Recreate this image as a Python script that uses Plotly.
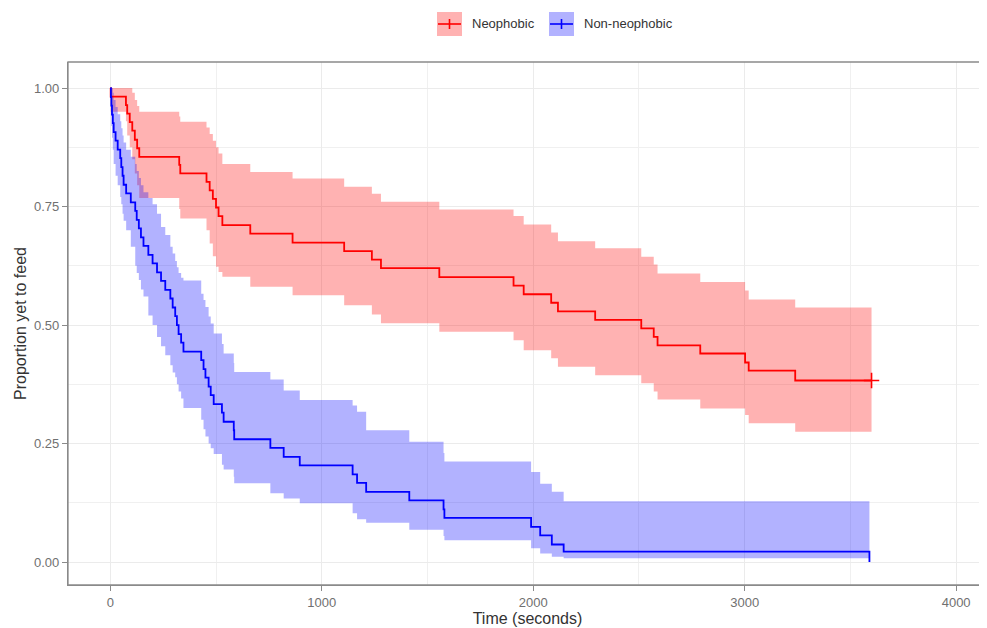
import plotly.graph_objects as go

# ---------------- data ----------------
neo_time = [0, 2, 74, 80, 92, 104, 116, 127, 137, 326, 331, 455, 470, 485, 500, 512, 530,
            662, 862, 1106, 1237, 1280, 1556, 1907, 1955, 2085, 2117, 2293, 2511, 2570,
            2588, 2790, 3002, 3019, 3239, 3600]
neo_surv = [1.0, 0.982, 0.964, 0.946, 0.928, 0.910, 0.891, 0.873, 0.855, 0.838, 0.820,
            0.802, 0.784, 0.766, 0.748, 0.730, 0.711, 0.693, 0.674, 0.656, 0.638, 0.620,
            0.601, 0.583, 0.565, 0.547, 0.529, 0.511, 0.493, 0.475, 0.457, 0.440, 0.421,
            0.404, 0.383, 0.383]
neo_upper = [1.0, 1.0, 1.0, 1.0, 1.0, 0.99, 0.975, 0.962, 0.950, 0.940, 0.929, 0.917,
             0.903, 0.889, 0.875, 0.862, 0.840, 0.823, 0.809, 0.792, 0.777, 0.760, 0.744,
             0.730, 0.712, 0.695, 0.677, 0.662, 0.644, 0.628, 0.609, 0.591, 0.573, 0.554,
             0.537, 0.537]
neo_lower = [1.0, 0.95, 0.93, 0.90, 0.875, 0.85, 0.82, 0.795, 0.768, 0.745, 0.725, 0.70,
             0.672, 0.645, 0.623, 0.612, 0.602, 0.581, 0.563, 0.542, 0.522, 0.504, 0.486,
             0.468, 0.447, 0.430, 0.412, 0.394, 0.377, 0.360, 0.343, 0.324, 0.310, 0.293,
             0.275, 0.275]

non_time = [0, 3, 5, 8, 12, 16, 25, 35, 47, 52, 58, 63, 75, 97, 118, 125, 135, 145, 157,
            180, 200, 221, 240, 260, 284, 295, 307, 315, 323, 335, 346, 430, 441, 450, 465,
            475, 489, 528, 536, 584, 586, 757, 820, 896, 1146, 1167, 1210, 1414, 1576, 1580,
            1990, 2033, 2088, 2144, 3590]
non_surv = [1.0, 0.981, 0.963, 0.944, 0.926, 0.907, 0.889, 0.870, 0.852, 0.833, 0.815,
            0.796, 0.778, 0.759, 0.741, 0.722, 0.704, 0.685, 0.667, 0.648, 0.630, 0.611,
            0.593, 0.574, 0.556, 0.537, 0.519, 0.500, 0.481, 0.463, 0.444, 0.426, 0.407,
            0.389, 0.370, 0.352, 0.333, 0.315, 0.296, 0.278, 0.259, 0.241, 0.222, 0.204,
            0.185, 0.167, 0.148, 0.130, 0.111, 0.093, 0.074, 0.056, 0.037, 0.022, 0.0]
non_upper = [1.0, 1.0, 1.0, 1.0, 0.99, 0.975, 0.96, 0.945, 0.93, 0.915, 0.90, 0.885, 0.87,
             0.855, 0.84, 0.825, 0.81, 0.795, 0.78, 0.768, 0.755, 0.735, 0.707, 0.690,
             0.665, 0.651, 0.635, 0.622, 0.61, 0.60, 0.594, 0.566, 0.553, 0.538, 0.518,
             0.503, 0.482, 0.46, 0.44, 0.42, 0.401, 0.385, 0.362, 0.342, 0.33, 0.317,
             0.278, 0.254, 0.23, 0.212, 0.19, 0.165, 0.148, 0.128, 0.128]
non_lower = [1.0, 0.95, 0.92, 0.895, 0.87, 0.84, 0.815, 0.795, 0.77, 0.755, 0.735, 0.72,
             0.70, 0.665, 0.625, 0.61, 0.595, 0.575, 0.56, 0.52, 0.50, 0.475, 0.455, 0.436,
             0.415, 0.40, 0.39, 0.375, 0.36, 0.345, 0.325, 0.30, 0.28, 0.265, 0.25, 0.24,
             0.228, 0.205, 0.195, 0.18, 0.166, 0.145, 0.134, 0.124, 0.103, 0.09, 0.083,
             0.068, 0.055, 0.046, 0.029, 0.018, 0.011, 0.008, 0.008]

group_names = ["Neophobic", "Non-neophobic"]
x_ticks = [0, 1000, 2000, 3000, 4000]
y_ticks = [0.0, 0.25, 0.5, 0.75, 1.0]
y_tick_labels = ["0.00", "0.25", "0.50", "0.75", "1.00"]

# ---------------- styling ----------------
RED = "#FF0000"
BLUE = "#0000FF"
RED_FILL = "rgba(255,0,0,0.30)"
BLUE_FILL = "rgba(0,0,255,0.30)"
FONT = "Liberation Sans"
OFF = 8                      # default page (body) margin of the html page
W, H = 987 - OFF, 628 - OFF
ML, MR, MT, MB = 68 - OFF, 0, 62 - OFF, 43
PW, PH = W - ML - MR, H - MT - MB

fig = go.Figure()


def add_band(t, lo, up, fill):
    fig.add_trace(go.Scatter(x=t, y=lo, mode="lines", line=dict(width=0, shape="hv"),
                             showlegend=False, hoverinfo="skip"))
    fig.add_trace(go.Scatter(x=t, y=up, mode="lines", line=dict(width=0, shape="hv"),
                             fill="tonexty", fillcolor=fill, showlegend=False,
                             hoverinfo="skip"))


add_band(neo_time, neo_lower, neo_upper, RED_FILL)
add_band(non_time, non_lower, non_upper, BLUE_FILL)

fig.add_trace(go.Scatter(x=neo_time, y=neo_surv, mode="lines", name=group_names[0],
                         line=dict(color=RED, width=1.8, shape="hv"), showlegend=False))
fig.add_trace(go.Scatter(x=non_time, y=non_surv, mode="lines", name=group_names[1],
                         line=dict(color=BLUE, width=1.8, shape="hv"), showlegend=False))
# censoring mark at the end of the Neophobic curve
fig.add_trace(go.Scatter(x=[neo_time[-1]], y=[neo_surv[-1]], mode="markers",
                         marker=dict(symbol="cross-thin", size=11,
                                     line=dict(color=RED, width=1.6)),
                         showlegend=False, hoverinfo="skip"))


def px_x(p):
    # page pixel -> paper x
    return (p - OFF - ML) / PW


def px_y(p):
    # page pixel -> paper y
    return (MT + PH - (p - OFF)) / PH


shapes = [
    # panel border
    dict(type="rect", xref="paper", yref="paper", x0=0, x1=1.05, y0=0, y1=1,
         line=dict(color="#8a8a8a", width=1.3), layer="above"),
]
annotations = []
# manual legend
legend_items = [(437, group_names[0], RED, RED_FILL), (549, group_names[1], BLUE, BLUE_FILL)]
for x0, label, col, fill in legend_items:
    shapes.append(dict(type="rect", xref="paper", yref="paper",
                       x0=px_x(x0), x1=px_x(x0 + 25), y0=px_y(36), y1=px_y(12),
                       fillcolor=fill, line=dict(width=0)))
    shapes.append(dict(type="line", xref="paper", yref="paper",
                       x0=px_x(x0 + 1), x1=px_x(x0 + 24), y0=px_y(24), y1=px_y(24),
                       line=dict(color=col, width=1.6)))
    shapes.append(dict(type="line", xref="paper", yref="paper",
                       x0=px_x(x0 + 12.5), x1=px_x(x0 + 12.5), y0=px_y(19), y1=px_y(29),
                       line=dict(color=col, width=1.6)))
    annotations.append(dict(xref="paper", yref="paper", x=px_x(x0 + 33), y=px_y(24),
                            text=label, showarrow=False, xanchor="left", yanchor="middle",
                            font=dict(family=FONT, size=13, color="#333333")))

fig.update_layout(
    width=W, height=H,
    margin=dict(l=ML, r=MR, t=MT, b=MB, autoexpand=False),
    paper_bgcolor="white", plot_bgcolor="white",
    font=dict(family=FONT, color="#333333"),
    shapes=shapes, annotations=annotations,
    showlegend=False,
)
fig.update_xaxes(
    range=[-200, 4146], tickvals=x_ticks, ticktext=[str(v) for v in x_ticks],
    showgrid=True, gridcolor="#EBEBEB", gridwidth=1.1,
    minor=dict(dtick=500, tick0=0, showgrid=True, gridcolor="#F0F0F0", gridwidth=0.6),
    zeroline=False, showline=True, linecolor="#8a8a8a", linewidth=1.3,
    ticks="outside", ticklen=5, tickcolor="#8a8a8a", tickwidth=1,
    tickfont=dict(family=FONT, size=13, color="#707070"),
    title=dict(text="Time (seconds)", font=dict(family=FONT, size=16, color="#333333"),
               standoff=0),
    automargin=False,
)
fig.update_yaxes(
    range=[-0.0485, 1.055], tickvals=y_ticks, ticktext=y_tick_labels,
    showgrid=True, gridcolor="#EBEBEB", gridwidth=1.1,
    minor=dict(dtick=0.125, tick0=0, showgrid=True, gridcolor="#F0F0F0", gridwidth=0.6),
    zeroline=False, showline=True, linecolor="#8a8a8a", linewidth=1.3,
    ticks="outside", ticklen=5, tickcolor="#8a8a8a", tickwidth=1,
    tickfont=dict(family=FONT, size=13, color="#707070"),
    title=dict(text="Proportion yet to feed", font=dict(family=FONT, size=16, color="#333333"),
               standoff=3),
    automargin=False,
)

fig.write_html("out.html")
